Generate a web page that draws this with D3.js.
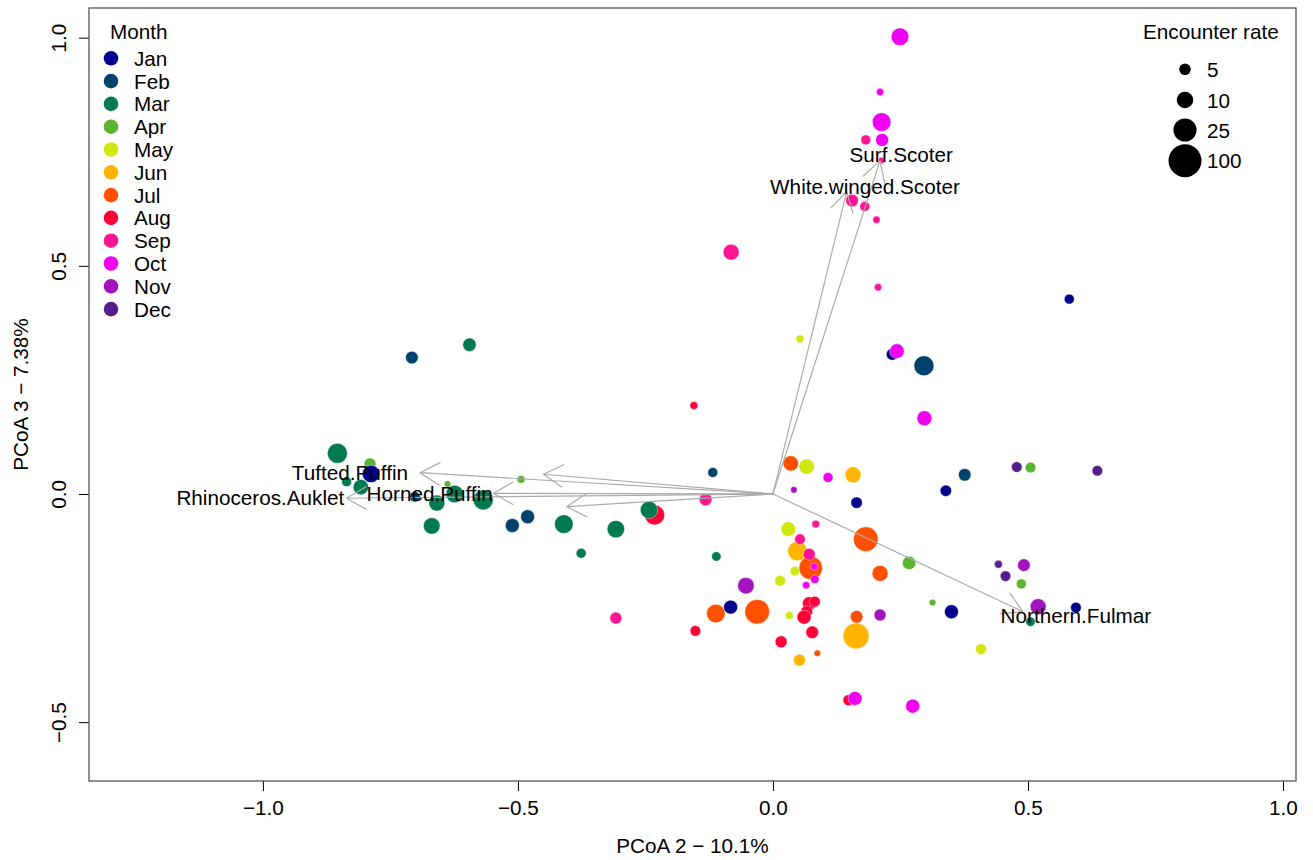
<!DOCTYPE html>
<html><head><meta charset="utf-8">
<script src="https://cdn.jsdelivr.net/npm/d3@7"></script>
<style>body{margin:0;background:#fff;} svg{display:block;font-family:"Liberation Sans",Arial,sans-serif;}</style>
</head><body><svg id="chart" width="1313" height="860"></svg>
<script>
// ---------- DATA ----------
const months = ["Jan","Feb","Mar","Apr","May","Jun","Jul","Aug","Sep","Oct","Nov","Dec"];
const monthColors = ["#00008C","#00426B","#007A4E","#5BB42F","#D0E60F","#FFB400","#FF5000","#FF0037","#FF1493","#F000F0","#A214BE","#561E8C"];

const pointMonth = [
 "Aug","Jul","Apr",
 "Jan","Jan","Jan","Jan","Jan","Jan","Jan","Jan",
 "Feb","Feb","Feb","Feb","Feb","Feb","Feb",
 "Mar","Mar","Mar","Mar","Mar","Mar","Mar","Mar","Mar","Mar","Mar","Mar","Mar","Mar",
 "Apr","Apr","Apr","Apr","Apr","Apr",
 "May","May","May","May","May","May","May",
 "Jun","Jun","Jun","Jun",
 "Jul","Jul","Jul","Jul","Jul","Jul","Jul",
 "Aug","Aug","Aug","Aug","Aug","Aug","Aug","Aug","Aug",
 "Sep","Sep","Sep","Sep","Sep","Sep","Sep","Sep","Sep","Sep","Sep","Sep",
 "Oct","Oct","Oct","Oct","Oct","Oct","Oct","Oct","Oct","Oct","Oct","Oct",
 "Nov","Nov","Nov","Nov","Nov",
 "Dec","Dec","Dec","Dec"];
const pcoa2 = [
 -0.232,-0.112,-0.790,
 0.581,0.234,0.164,0.339,0.350,0.594,-0.788,-0.083,
 0.296,0.376,-0.118,-0.708,-0.702,-0.511,-0.481,
 -0.595,-0.854,-0.836,-0.808,-0.659,-0.624,-0.568,-0.669,-0.410,-0.308,-0.376,-0.243,-0.111,0.505,
 -0.638,-0.494,0.505,0.267,0.487,0.313,
 0.053,0.066,0.030,0.043,0.014,0.032,0.408,
 0.157,0.048,0.163,0.052,
 0.035,0.182,0.074,0.210,-0.031,0.164,0.087,
 -0.155,0.071,0.082,0.066,0.061,-0.152,0.077,0.016,0.148,
 0.182,0.213,0.155,0.180,0.203,0.206,-0.082,-0.132,0.084,0.053,0.071,-0.308,
 0.249,0.210,0.213,0.214,0.243,0.297,0.108,0.081,0.082,0.065,0.161,0.274,
 0.041,-0.053,0.210,0.492,0.520,
 0.478,0.636,0.442,0.456];
const pcoa3 = [
 -0.046,-0.262,0.066,
 0.427,0.306,-0.019,0.007,-0.258,-0.249,0.044,-0.248,
 0.281,0.042,0.047,0.299,-0.006,-0.069,-0.050,
 0.327,0.089,0.027,0.015,-0.020,0.000,-0.013,-0.070,-0.066,-0.077,-0.130,-0.035,-0.137,-0.280,
 0.022,0.032,0.058,-0.151,-0.197,-0.238,
 0.340,0.060,-0.077,-0.169,-0.190,-0.266,-0.340,
 0.042,-0.125,-0.311,-0.364,
 0.067,-0.099,-0.162,-0.174,-0.258,-0.269,-0.349,
 0.194,-0.240,-0.236,-0.258,-0.270,-0.300,-0.303,-0.324,-0.452,
 0.776,0.731,0.643,0.630,0.601,0.453,0.530,-0.012,-0.066,-0.099,-0.132,-0.272,
 1.002,0.881,0.815,0.776,0.313,0.166,0.036,-0.159,-0.187,-0.200,-0.448,-0.465,
 0.009,-0.201,-0.265,-0.156,-0.247,
 0.059,0.051,-0.154,-0.180];
const encounterRate = [
 16.3,13.4,5.3,
 4,5.3,4.9,4.9,7,4.4,11.4,7,
 16.3,5.8,4,5.8,4.4,7,7,
 6.5,16.3,4,8.6,9.3,11.4,16.3,10.1,13.4,11.4,4,11.4,3.7,3.7,
 2.5,3,4.4,6.5,4,2.5,
 3,8.6,7.7,3.7,4.4,3,4.6,
 9.3,15,37.6,5.3,
 8.6,31,26,9.3,31,5.8,2.5,
 3,6.5,4.6,5.3,7,4.4,5.8,5.3,4.6,
 4,2.5,5.8,4,2.8,2.8,9.3,5.8,3,4.4,5.3,5.3,
 11.7,2.8,13.4,6.1,7.7,8.1,4,2.8,3.3,2.8,7,7,
 2.5,10.1,5.3,5.8,9.3,
 4.4,4.4,3,4.4];

const species   = ["Rhinoceros.Auklet","Tufted.Puffin","Horned.Puffin","","","Surf.Scoter","White.winged.Scoter","Northern.Fulmar"];
const arrowX    = [-0.836,-0.692,-0.548,-0.450,-0.4045,0.2098,0.1445,0.490];
const arrowY    = [-0.0094,0.0467,0.0015,0.0432,-0.0278,0.730,0.6627,-0.258];
const labelX    = [-1.005,-0.8294,-0.6731,null,null,0.2516,0.1804,0.594];
const labelY    = [-0.0077,0.0467,0.0015,null,null,0.7431,0.6736,-0.2668];

const xTicks = [-1,-0.5,0,0.5,1];
const yTicks = [-0.5,0,0.5,1];
const sizeLegendValues = [5,10,25,100];

// ---------- CHART ----------
const FS = 20.7;
const svg = d3.select("#chart");
const L = 89, T = 8, R = 1296, B = 781;
const x = d3.scaleLinear().domain([-1.341,1.0255]).range([L,R]);
const y = d3.scaleLinear().domain([-0.629,1.065]).range([B,T]);
const rScale = d3.scaleLog().domain([1,100]).range([0,16.5]);
const color = d3.scaleOrdinal().domain(months).range(monthColors);
const fmt = d3.format(".1f");

// axes
const xAxis = svg.append("g").attr("transform",`translate(0,${B})`)
  .call(d3.axisBottom(x).tickValues(xTicks).tickSize(10).tickFormat(fmt));
xAxis.select(".domain").remove();
xAxis.selectAll("text").attr("y",27).attr("dy","0.35em").attr("font-size",FS).attr("fill","#000").attr("font-family","Liberation Sans, Arial, sans-serif");
xAxis.selectAll("line").attr("stroke","#000");

const yAxis = svg.append("g").attr("transform",`translate(${L},0)`)
  .call(d3.axisLeft(y).tickValues(yTicks).tickSize(10).tickFormat(fmt));
yAxis.select(".domain").remove();
yAxis.selectAll("line").attr("stroke","#000");
yAxis.selectAll("text").attr("x",null).attr("dy",null)
  .attr("transform","translate(-31,0) rotate(-90)")
  .attr("text-anchor","middle").attr("dominant-baseline","central")
  .attr("font-size",FS).attr("fill","#000").attr("font-family","Liberation Sans, Arial, sans-serif");

// axis titles
svg.append("text").attr("x",(L+R)/2).attr("y",845).attr("text-anchor","middle")
  .attr("dominant-baseline","central").attr("font-size",FS).text("PCoA 2 − 10.1%");
svg.append("text").attr("transform",`translate(20,${(T+B)/2}) rotate(-90)`).attr("text-anchor","middle")
  .attr("dominant-baseline","central").attr("font-size",FS).text("PCoA 3 − 7.38%");

// points
const pts = pointMonth.map((m,i)=>({m, x:pcoa2[i], y:pcoa3[i], r:encounterRate[i]}));
svg.append("g").selectAll("circle").data(pts).join("circle")
  .attr("cx",d=>x(d.x)).attr("cy",d=>y(d.y)).attr("r",d=>rScale(d.r))
  .attr("fill",d=>color(d.m)).attr("stroke","#fff").attr("stroke-width",0.7).attr("stroke-opacity",0.6);

// arrows
const ag = svg.append("g").attr("stroke","#ABABAB").attr("stroke-width",1.2).attr("fill","none");
const x0 = x(0), y0 = y(0);
species.forEach((s,i)=>{
  const tx = x(arrowX[i]), ty = y(arrowY[i]);
  ag.append("line").attr("x1",x0).attr("y1",y0).attr("x2",tx).attr("y2",ty);
  const ang = Math.atan2(y0-ty, x0-tx);
  const len = 23, a = Math.PI/6;
  [ang+a, ang-a].forEach(t=>{
    ag.append("line").attr("x1",tx).attr("y1",ty)
      .attr("x2",tx+len*Math.cos(t)).attr("y2",ty+len*Math.sin(t));
  });
});
// arrow labels
species.forEach((s,i)=>{
  if(!s) return;
  svg.append("text").attr("x",x(labelX[i])).attr("y",y(labelY[i]))
    .attr("text-anchor","middle").attr("dominant-baseline","central")
    .attr("font-size",FS).attr("fill","#000").text(s);
});

// box
svg.append("rect").attr("x",L).attr("y",T).attr("width",R-L).attr("height",B-T)
  .attr("fill","none").attr("stroke","#555").attr("stroke-width",1.3);

// month legend
const lg = svg.append("g");
lg.append("text").attr("x",110).attr("y",31.7).attr("dominant-baseline","central").attr("font-size",FS).text("Month");
months.forEach((m,i)=>{
  const yy = 58.3 + i*22.8;
  lg.append("circle").attr("cx",111).attr("cy",yy).attr("r",7.3).attr("fill",color(m));
  lg.append("text").attr("x",134).attr("y",yy).attr("dominant-baseline","central").attr("font-size",FS).text(m);
});

// size legend
const sg = svg.append("g");
sg.append("text").attr("x",1143).attr("y",31.7).attr("dominant-baseline","central").attr("font-size",FS).text("Encounter rate");
const sy = [69.3,100,130,160.7];
sizeLegendValues.forEach((v,i)=>{
  sg.append("circle").attr("cx",1185).attr("cy",sy[i]).attr("r",rScale(v)).attr("fill","#000");
  sg.append("text").attr("x",1207).attr("y",sy[i]).attr("dominant-baseline","central").attr("font-size",FS).text(v);
});
</script></body></html>
